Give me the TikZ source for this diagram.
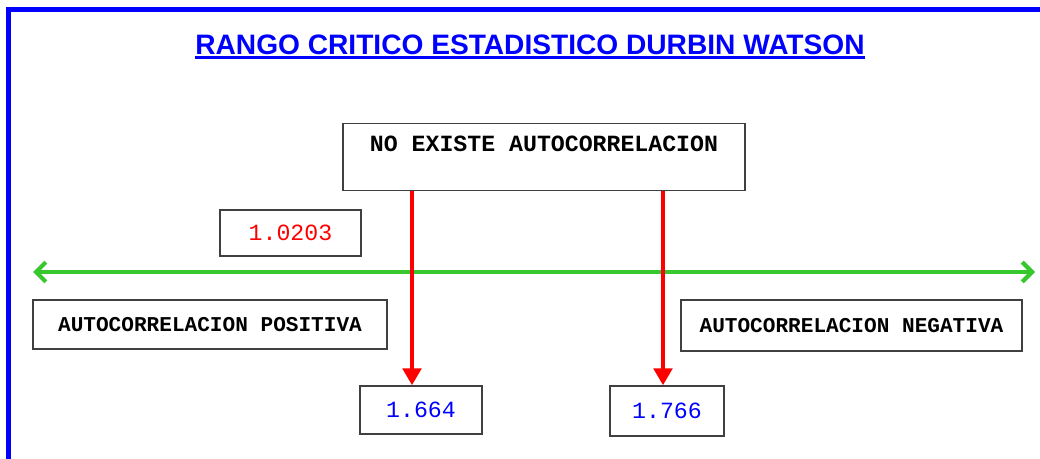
\documentclass[tikz,border=0pt]{standalone}
\usepackage{fontspec}
\setsansfont{Liberation Sans}
\setmonofont{Liberation Mono}
\usetikzlibrary{arrows.meta}
\definecolor{axisgreen}{RGB}{55,200,45}

\begin{document}
\begin{tikzpicture}[x=0.025cm,y=-0.025cm,
    box/.style={draw=black!75,line width=1pt,fill=white,inner sep=0pt,
      font=\ttfamily\bfseries\fontsize{15}{18}\selectfont},
    numbox/.style={box,font=\ttfamily\fontsize{16.5}{20}\selectfont},
    drop/.style={red,line width=3pt,-{Triangle[length=12pt,width=13pt]}},
    axis/.style={axisgreen,line width=3pt,
      {Straight Barb[length=7pt,width=14pt]}-{Straight Barb[length=7pt,width=14pt]}}]
    \useasboundingbox (0,0) rectangle (1040,459);
    \draw[blue,line width=3pt] (8.5,470) -- (8.5,9.5) -- (1050,9.5);
    % title
    \node[font=\sffamily\bfseries\fontsize{20}{24}\selectfont,text=blue,inner sep=0pt]
      (title) at (530,45) {RANGO CRITICO ESTADISTICO DURBIN WATSON};
    \draw[blue,line width=1.5pt] ([yshift=-2pt]title.base west) to ([yshift=-2pt]title.base east);
    % axis
    \coordinate (west) at (33,272);
    \coordinate (east) at (1035,272);
    \draw[axis] (west) to (east);
    % boxes
    \node[box,anchor=north,minimum width=10.05cm,text height=0.7cm,text depth=0.975cm,
      font=\ttfamily\bfseries\fontsize{16.5}{20}\selectfont] (noauto) at (544,123) {NO EXISTE AUTOCORRELACION};
    \node[numbox,minimum width=3.525cm,minimum height=1.15cm,text=red] (dl) at (290.5,233) {1.0203};
    \node[box,minimum width=8.85cm,minimum height=1.225cm] (pos) at (210,324.5) {AUTOCORRELACION POSITIVA};
    \node[box,minimum width=8.525cm,minimum height=1.275cm] (neg) at (851.5,325.5) {AUTOCORRELACION NEGATIVA};
    \node[numbox,minimum width=3.05cm,minimum height=1.2cm,text=blue] (lo) at (421,410) {1.664};
    \node[numbox,minimum width=2.85cm,minimum height=1.25cm,text=blue] (hi) at (667,411) {1.766};
    % limits
    \draw[drop] ([xshift=-0.225cm]lo.north |- noauto.south) to ([xshift=-0.225cm]lo.north);
    \draw[drop] ([xshift=-0.1cm]hi.north |- noauto.south) to ([xshift=-0.1cm]hi.north);
\end{tikzpicture}
\end{document}
